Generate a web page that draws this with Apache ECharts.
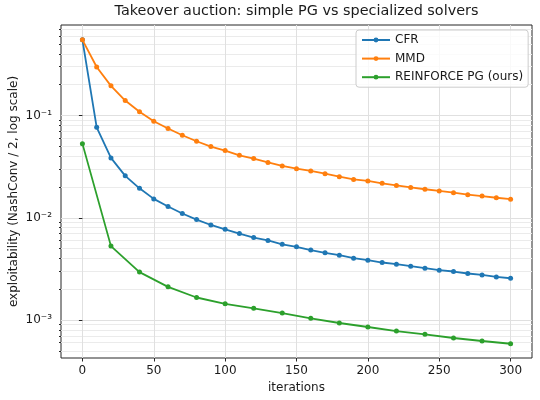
<!DOCTYPE html>
<html>
<head>
	<meta charset="utf-8"/>
	<title>Takeover auction</title>
	<script src="https://cdn.jsdelivr.net/npm/echarts@6.0.0/dist/echarts.min.js"></script>
	<style>
		html, body { margin: 0; padding: 0; background: #fff; }
		#chart { width: 540px; height: 400px; }
	</style>
</head>
<body>
	<div id="chart"></div>
	<script>
		// iterations
		const itersCfrMmd = [0, 10, 20, 30, 40, 50, 60, 70, 80, 90, 100, 110, 120, 130, 140, 150,
			160, 170, 180, 190, 200, 210, 220, 230, 240, 250, 260, 270, 280, 290, 300];
		const itersPg = [0, 20, 40, 60, 80, 100, 120, 140, 160, 180, 200, 220, 240, 260, 280, 300];

		// exploitability values
		const cfrValues = [0.55, 0.0767, 0.0385, 0.0257, 0.0194, 0.0153, 0.0129, 0.0110, 0.0096, 0.0085,
			0.0077, 0.0070, 0.0064, 0.0060, 0.0055, 0.0052, 0.00483, 0.00454, 0.00431, 0.00402,
			0.00385, 0.00365, 0.00352, 0.00336, 0.00321, 0.00307, 0.00298, 0.00285, 0.00276, 0.00264, 0.00256];
		const mmdValues = [0.55, 0.298, 0.195, 0.140, 0.109, 0.088, 0.0746, 0.0641, 0.056, 0.0497,
			0.0454, 0.0408, 0.0379, 0.0348, 0.0321, 0.0302, 0.0287, 0.0270, 0.0252, 0.0237,
			0.0229, 0.0217, 0.0207, 0.0198, 0.0190, 0.0183, 0.0176, 0.0168, 0.0163, 0.0157, 0.0152];
		const pgValues = [0.0531, 0.00528, 0.00294, 0.00211, 0.00166, 0.00144, 0.00130, 0.00117,
			0.00104, 0.000935, 0.000854, 0.000779, 0.000724, 0.000667, 0.000623, 0.000586];

		const seriesNames = ['CFR', 'MMD', 'REINFORCE PG (ours)'];
		const seriesColors = ['#1f77b4', '#ff7f0e', '#2ca02c'];

		// axis ticks
		const xTicks = [0, 50, 100, 150, 200, 250, 300];
		const yMajorTicks = [1e-3, 1e-2, 1e-1];
		const yMajorLabels = ['10⁻³', '10⁻²', '10⁻¹'];
		const yMin = 4.25e-4;
		const yMax = 0.768;
		// minor log ticks 2..9 x 10^k
		let yMinorTicks = [];
		for(let k = -4; k <= -1; k++){
			for(let m = 2; m <= 9; m++){
				let v = m * Math.pow(10, k);
				if(v > yMin && v < yMax){
					yMinorTicks.push(v);
				}
			}
		}

		const font = 'DejaVu Sans';
		const textColor = '#1a1a1a';
		const fontSize = 12;

		function pairs(xs, ys){
			return xs.map((x, i) => [x, ys[i]]);
		}

		let chart = echarts.init(document.querySelector('#chart'), null, {renderer: 'canvas'});
		chart.setOption({
			animation: false,
			backgroundColor: '#fff',
			title: {
				text: 'Takeover auction: simple PG vs specialized solvers',
				left: 296.5,
				top: 4,
				textAlign: 'center',
				padding: 0,
				textStyle: {fontFamily: font, fontSize: 14.4, fontWeight: 'normal', color: textColor}
			},
			grid: {
				left: 61,
				right: 8,
				top: 25,
				bottom: 42,
				outerBoundsMode: 'none',
				containLabel: false,
				show: true,
				borderColor: '#262626',
				borderWidth: 1,
				backgroundColor: 'transparent'
			},
			legend: {
				orient: 'vertical',
				left: 356,
				top: 30,
				padding: [3, 5, 3, 5],
				itemWidth: 28,
				itemHeight: 6,
				itemGap: 4.6,
				backgroundColor: 'rgba(255,255,255,0.8)',
				borderColor: '#cccccc',
				borderWidth: 1,
				borderRadius: 3,
				textStyle: {fontFamily: font, fontSize: fontSize, color: textColor, lineHeight: 14},
				data: seriesNames
			},
			xAxis: {
				type: 'value',
				min: -15,
				max: 315,
				splitNumber: 6,
				name: 'iterations',
				nameLocation: 'middle',
				nameGap: 23,
				nameTextStyle: {fontFamily: font, fontSize: fontSize, color: textColor},
				axisLine: {show: false},
				axisTick: {show: true, length: 3.5, lineStyle: {color: '#262626'}, customValues: xTicks},
				axisLabel: {fontFamily: font, fontSize: fontSize, color: textColor, margin: 7, customValues: xTicks},
				splitLine: {show: true, lineStyle: {color: '#e0e0e0', width: 1}}
			},
			yAxis: [
				{
					type: 'log',
					logBase: 10,
					min: yMin,
					max: yMax,
					position: 'left',
					name: 'exploitability (NashConv / 2, log scale)',
					nameLocation: 'middle',
					nameGap: 41,
					nameMoveOverlap: false,
					nameTextStyle: {fontFamily: font, fontSize: fontSize, color: textColor},
					axisLine: {show: false},
					axisTick: {show: true, length: 3.5, lineStyle: {color: '#262626'}, customValues: yMajorTicks},
					axisLabel: {
						fontFamily: font, fontSize: fontSize, color: textColor, margin: 9,
						customValues: yMajorTicks,
						formatter: function(v){
							let i = yMajorTicks.findIndex(t => Math.abs(Math.log10(t) - Math.log10(v)) < 1e-6);
							return i >= 0 ? yMajorLabels[i] : '';
						}
					},
					splitLine: {show: true, lineStyle: {color: '#e0e0e0', width: 1}}
				},
				{
					type: 'log',
					logBase: 10,
					min: yMin,
					max: yMax,
					position: 'left',
					offset: 0,
					axisLine: {show: false},
					axisTick: {show: true, length: 2, lineStyle: {color: '#262626'}, customValues: yMinorTicks},
					axisLabel: {show: false},
					splitLine: {show: true, lineStyle: {color: '#ebebeb', width: 1}}
				}
			],
			series: [
				{
					name: seriesNames[0],
					type: 'line',
					data: pairs(itersCfrMmd, cfrValues),
					color: seriesColors[0],
					symbol: 'circle',
					symbolSize: 5,
					lineStyle: {width: 1.8},
					z: 3
				},
				{
					name: seriesNames[1],
					type: 'line',
					data: pairs(itersCfrMmd, mmdValues),
					color: seriesColors[1],
					symbol: 'circle',
					symbolSize: 5,
					lineStyle: {width: 1.8},
					z: 4
				},
				{
					name: seriesNames[2],
					type: 'line',
					data: pairs(itersPg, pgValues),
					color: seriesColors[2],
					symbol: 'circle',
					symbolSize: 5,
					lineStyle: {width: 1.8},
					z: 5
				}
			]
		});
	</script>
</body>
</html>
